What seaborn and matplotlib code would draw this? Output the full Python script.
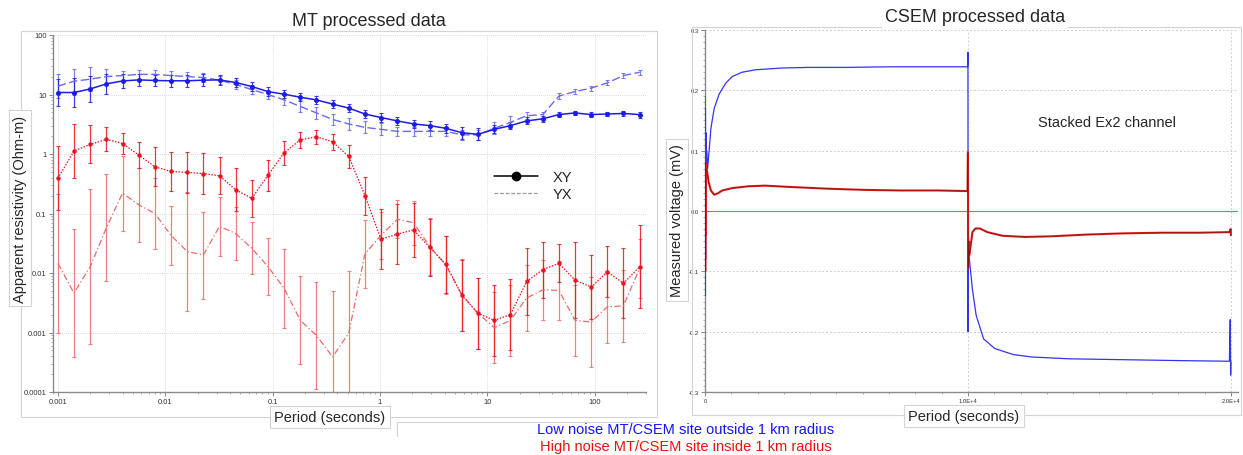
import matplotlib
matplotlib.use("Agg")
import matplotlib.pyplot as plt
from matplotlib.patches import Rectangle
from matplotlib.lines import Line2D
from matplotlib.ticker import LogLocator, MultipleLocator, NullFormatter
import numpy as np
import pandas as pd
import seaborn as sns

# ---------------- data: MT panel ----------------
periods = [0.001, 0.00141, 0.002, 0.00283, 0.004, 0.00566, 0.008, 0.0113, 0.016, 0.0226,
           0.032, 0.0453, 0.064, 0.0905, 0.128, 0.181, 0.256, 0.362, 0.512, 0.724,
           1.02, 1.45, 2.05, 2.9, 4.1, 5.79, 8.19, 11.6, 16.4, 23.2,
           32.8, 46.3, 65.5, 92.7, 131, 185, 262]

low_xy = [10.8, 10.8, 12.4, 15.1, 16.9, 17.6, 17.2, 17.0, 17.0, 17.4,
          17.6, 15.9, 13.6, 11.2, 10.1, 9.0, 8.1, 6.9, 5.9, 4.7,
          4.1, 3.6, 3.2, 3.0, 2.7, 2.28, 2.14, 2.6, 3.0, 3.6,
          3.9, 4.6, 4.9, 4.6, 4.7, 4.8, 4.6]
low_xy_err = [0.23, 0.24, 0.22, 0.17, 0.12, 0.1, 0.1, 0.1, 0.1, 0.1,
              0.08, 0.08, 0.08, 0.08, 0.07, 0.07, 0.07, 0.07, 0.07, 0.07,
              0.07, 0.07, 0.07, 0.07, 0.08, 0.1, 0.1, 0.07, 0.06, 0.06,
              0.05, 0.04, 0.04, 0.04, 0.04, 0.04, 0.05]

low_yx = [13.8, 16.7, 18.1, 20.0, 20.8, 21.8, 21.8, 20.8, 20.0, 19.3,
          17.4, 14.7, 12.1, 10.0, 8.1, 6.3, 4.9, 3.8, 3.2, 2.8,
          2.6, 2.4, 2.4, 2.4, 2.4, 2.1, 2.1, 2.7, 3.4, 4.4,
          4.6, 9.4, 11.2, 12.8, 15.7, 20.8, 23.7]
low_yx_err = [0.2, 0.2, 0.2, 0.12, 0.08, 0.08, 0.08, 0.08, 0.08, 0.07,
              0.07, 0.07, 0.07, 0.07, 0.08, 0.1, 0.1, 0.1, 0.1, 0.1,
              0.1, 0.08, 0.08, 0.08, 0.08, 0.08, 0.08, 0.1, 0.1, 0.06,
              0.05, 0.05, 0.04, 0.04, 0.04, 0.04, 0.04]

high_xy = [0.39, 1.12, 1.45, 1.76, 1.5, 0.96, 0.61, 0.51, 0.49, 0.47,
           0.43, 0.25, 0.18, 0.44, 1.05, 1.73, 1.95, 1.6, 0.91, 0.2,
           0.037, 0.045, 0.053, 0.027, 0.014, 0.0042, 0.0021, 0.0016, 0.002, 0.0072,
           0.0114, 0.0145, 0.0076, 0.0058, 0.0105, 0.0067, 0.0128]
high_xy_err = [0.54, 0.45, 0.32, 0.2, 0.17, 0.22, 0.33, 0.33, 0.35, 0.35,
               0.31, 0.36, 0.31, 0.26, 0.2, 0.14, 0.12, 0.14, 0.2, 0.32,
               0.5, 0.5, 0.45, 0.48, 0.48, 0.6, 0.6, 0.6, 0.6, 0.56,
               0.47, 0.32, 0.64, 0.54, 0.43, 0.59, 0.7]

high_yx = [0.0145, 0.0046, 0.0128, 0.058, 0.22, 0.14, 0.1, 0.043, 0.023, 0.02,
           0.061, 0.046, 0.026, 0.0128, 0.0055, 0.0016, 0.00089, 0.00039, 0.00098, 0.021,
           0.043, 0.08, 0.07, 0.028, 0.0136, 0.0043, 0.0021, 0.0012, 0.0016, 0.0038,
           0.0052, 0.0051, 0.0016, 0.0015, 0.0027, 0.0028, 0.012]
high_yx_err = [1.17, 1.08, 1.3, 0.9, 0.63, 0.62, 0.6, 0.5, 1.0, 0.73,
               0.5, 0.45, 0.44, 0.48, 0.66, 0.74, 0.9, 1.1, 1.05, 0.57,
               0.4, 0.32, 0.37, 0.48, 0.48, 0.6, 0.6, 0.6, 0.6, 0.55,
               0.5, 0.5, 0.6, 0.75, 0.6, 0.6, 0.5]

mt_xticks = [0.001, 0.01, 0.1, 1, 10, 100]
mt_xticklabels = ["0.001", "0.01", "0.1", "1", "10", "100"]
mt_yticks = [0.0001, 0.001, 0.01, 0.1, 1, 10, 100]
mt_yticklabels = ["0.0001", "0.001", "0.01", "0.1", "1", "10", "100"]

# ---------------- data: CSEM panel ----------------
blue_t_on = [0, 8, 16, 24, 32, 40, 60, 100, 225, 350, 540, 790, 1040, 1410, 1910,
             2910, 3910, 5350, 7000, 8500, 9980]
blue_v_on = [0.19, -0.14, 0.17, -0.08, 0.13, -0.03, 0.10, 0.07, 0.137, 0.17, 0.194, 0.212,
             0.223, 0.23, 0.234, 0.237, 0.238, 0.238, 0.239, 0.239, 0.239]
blue_t_off = [9990, 10000, 10006, 10012, 10028, 10170, 10312, 10595, 11020, 11728, 12436,
              13853, 15269, 16686, 18102, 19943, 19975, 19990, 20000]
blue_v_off = [0.239, 0.263, -0.20, -0.03, -0.068, -0.13, -0.173, -0.212, -0.228, -0.238,
              -0.242, -0.245, -0.246, -0.247, -0.248, -0.249, -0.18, -0.272, -0.25]

red_t_on = [0, 8, 16, 24, 32, 45, 70, 100, 137, 225, 350, 475, 660, 1040, 1660, 2290,
            3160, 4646, 6062, 7479, 8895, 9972]
red_v_on = [0.10, -0.10, 0.08, -0.04, 0.07, 0.069, 0.068, 0.06, 0.048, 0.034, 0.027, 0.029,
            0.034, 0.038, 0.041, 0.042, 0.040, 0.037, 0.035, 0.034, 0.034, 0.033]
red_t_off = [9985, 10000, 10008, 10020, 10057, 10170, 10283, 10453, 10737, 11303, 12153,
             13144, 14561, 15977, 17394, 18810, 19943, 19990, 20000]
red_v_off = [0.033, 0.097, -0.095, -0.05, -0.073, -0.035, -0.029, -0.029, -0.035, -0.041,
             -0.043, -0.042, -0.039, -0.037, -0.036, -0.036, -0.035, -0.03, -0.04]

csem_yticks = [-0.3, -0.2, -0.1, 0.0, 0.1, 0.2, 0.3]
csem_yticklabels = ["-0.3", "-0.2", "-0.1", "0.0", "0.1", "0.2", "0.3"]
csem_xticks = [0, 10000, 20000]
csem_xticklabels = ["0", "1.0E+4", "2.0E+4"]

# ---------------- style ----------------
sns.set_style("white")
plt.rcParams["font.family"] = ["Liberation Sans", "DejaVu Sans"]

W, H = 1243, 456
fig = plt.figure(figsize=(W / 100, H / 100), dpi=100)


def rect(x0, y0, x1, y1):
    return [x0 / W, 1 - y1 / H, (x1 - x0) / W, (y1 - y0) / H]


FRAME = "#d4d4d4"
# panel borders (light grey frames of the composite)
for (x0, y0, x1, y1) in [(21, 32, 657, 418), (692, 28, 1241, 416)]:
    fig.patches.append(Rectangle((x0 / W, 1 - y1 / H), (x1 - x0) / W, (y1 - y0) / H,
                                 transform=fig.transFigure, fill=False,
                                 ec=FRAME, lw=0.8, zorder=0))
# partial frame of the caption box
fig.add_artist(Line2D([397 / W, 655 / W], [1 - 423 / H, 1 - 423 / H],
                      transform=fig.transFigure, color=FRAME, lw=0.8))
fig.add_artist(Line2D([397 / W, 397 / W], [1 - 423 / H, 1 - 437 / H],
                      transform=fig.transFigure, color=FRAME, lw=0.8))

axL = fig.add_axes(rect(53, 36, 646, 393))
axR = fig.add_axes(rect(705, 31, 1238, 393))

# ---------------- MT panel ----------------
BLUE = "#1c1ce6"
BLUE_L = "#6a6aee"
RED = "#e8141e"
RED_L = "#ec6a6a"

mt = pd.DataFrame({"period": periods, "low_xy": low_xy, "low_yx": low_yx,
                   "high_xy": high_xy, "high_yx": high_yx})


def log_err(vals, errs):
    v = np.asarray(vals, float)
    e = np.asarray(errs, float)
    return np.vstack([v - v / 10 ** e, v * 10 ** e - v])


for col, errs, c in [("high_yx", high_yx_err, RED_L), ("high_xy", high_xy_err, RED),
                     ("low_yx", low_yx_err, BLUE_L), ("low_xy", low_xy_err, BLUE)]:
    axL.errorbar(mt["period"], mt[col], yerr=log_err(mt[col], errs), fmt="none",
                 ecolor=c, elinewidth=0.9, capsize=1.6, capthick=0.8, alpha=0.85, zorder=2)

sns.lineplot(data=mt, x="period", y="high_yx", ax=axL, color=RED_L, lw=0.9,
             linestyle=(0, (5, 2, 1, 2)), estimator=None, sort=False, zorder=3)
sns.lineplot(data=mt, x="period", y="high_xy", ax=axL, color=RED, lw=0.9,
             linestyle=(0, (1.2, 1.2)), marker="o", markersize=3.2, markeredgewidth=0,
             estimator=None, sort=False, zorder=3)
sns.lineplot(data=mt, x="period", y="low_yx", ax=axL, color=BLUE_L, lw=1.0,
             linestyle=(0, (6, 2.5)), estimator=None, sort=False, zorder=3)
sns.lineplot(data=mt, x="period", y="low_xy", ax=axL, color=BLUE, lw=1.1,
             marker="o", markersize=3.6, markeredgewidth=0,
             estimator=None, sort=False, zorder=4)

axL.set_xscale("log")
axL.set_yscale("log")
axL.set_xlim(0.0009, 300)
axL.set_ylim(0.0001, 100)
axL.set_xticks(mt_xticks)
axL.set_xticklabels(mt_xticklabels)
axL.set_yticks(mt_yticks)
axL.set_yticklabels(mt_yticklabels)
axL.xaxis.set_minor_locator(LogLocator(base=10, subs=np.arange(2, 10)))
axL.xaxis.set_minor_formatter(NullFormatter())
axL.yaxis.set_minor_locator(LogLocator(base=10, subs=np.arange(2, 10)))
axL.yaxis.set_minor_formatter(NullFormatter())
axL.grid(True, which="major", color="#cfcfcf", lw=0.6, linestyle=(0, (1, 1.5)))
axL.set_xlabel("")
axL.set_ylabel("")

handles = [Line2D([], [], color="black", lw=1.1, marker="o", markersize=6),
           Line2D([], [], color="#9a9a9a", lw=0.9, linestyle=(0, (3, 1.5)))]
axL.legend(handles, ["XY", "YX"], loc="center", bbox_to_anchor=(0.81, 0.578),
           frameon=False, fontsize=10.5, handlelength=3.0, handletextpad=1.0,
           labelspacing=0.25)

# ---------------- CSEM panel ----------------
CBLUE = "#3434ee"
CRED = "#e41c1c"
CDARK = "#8a1010"

csem_on_b = pd.DataFrame({"t": blue_t_on, "v": blue_v_on})
csem_off_b = pd.DataFrame({"t": blue_t_off, "v": blue_v_off})
csem_on_r = pd.DataFrame({"t": red_t_on, "v": red_v_on})
csem_off_r = pd.DataFrame({"t": red_t_off, "v": red_v_off})

axR.axhline(0.0, color="#e06060", lw=0.8, zorder=1)
for d in (csem_on_b, csem_off_b):
    sns.lineplot(data=d, x="t", y="v", ax=axR, color=CBLUE, lw=0.9,
                 estimator=None, sort=False, zorder=3)
for d in (csem_on_r, csem_off_r):
    sns.lineplot(data=d, x="t", y="v", ax=axR, color=CRED, lw=1.5,
                 estimator=None, sort=False, zorder=4)
    sns.lineplot(data=d, x="t", y="v", ax=axR, color=CDARK, lw=0.45,
                 estimator=None, sort=False, zorder=5)

axR.set_xlim(0, 20270)
axR.set_ylim(-0.3, 0.3)
axR.set_yticks(csem_yticks)
axR.set_yticklabels(csem_yticklabels)
axR.set_xticks(csem_xticks)
axR.set_xticklabels(csem_xticklabels)
axR.yaxis.set_minor_locator(MultipleLocator(0.01))
axR.xaxis.set_minor_locator(MultipleLocator(1000))
axR.grid(True, which="major", color="#cfcfcf", lw=0.7, linestyle=(0, (2, 2)))
axR.set_xlabel("")
axR.set_ylabel("")
axR.text(0.625, 0.745, "Stacked Ex2 channel", transform=axR.transAxes,
         fontsize=10.5, ha="left", va="center")

# spines / ticks
for ax, fs in ((axL, 5.5), (axR, 4.2)):
    for s in ("top", "right"):
        ax.spines[s].set_visible(False)
    for s in ("left", "bottom"):
        ax.spines[s].set_color("#8a8a8a")
        ax.spines[s].set_linewidth(1.0)
    ax.tick_params(which="major", length=3, width=0.7, color="#8a8a8a",
                   labelsize=fs, labelcolor="#333333", pad=1.5, left=True, bottom=True)
    ax.tick_params(which="minor", length=1.6, width=0.5, color="#8a8a8a",
                   left=True, bottom=True)

# ---------------- labels, titles, caption ----------------
box = dict(boxstyle="square,pad=0.3", fc="white", ec=FRAME, lw=0.8)
nobox = dict(boxstyle="square,pad=0.15", fc="white", ec="none")

fig.text(369 / W, 1 - 21 / H, "MT processed data", ha="center", va="center",
         fontsize=13, bbox=nobox)
fig.text(975 / W, 1 - 18 / H, "CSEM processed data", ha="center", va="center",
         fontsize=13, bbox=nobox)
fig.text(330 / W, 1 - 418 / H, "Period (seconds)", ha="center", va="center",
         fontsize=10.5, bbox=box)
fig.text(964 / W, 1 - 417 / H, "Period (seconds)", ha="center", va="center",
         fontsize=10.5, bbox=box)
fig.text(20 / W, 1 - 209 / H, "Apparent resistivity (Ohm-m)", ha="center", va="center",
         rotation=90, fontsize=10.5, bbox=box)
fig.text(677 / W, 1 - 221 / H, "Measured voltage (mV)", ha="center", va="center",
         rotation=90, fontsize=10.5, bbox=box)

fig.text(686 / W, 1 - 430 / H, "Low noise MT/CSEM site outside 1 km radius",
         ha="center", va="center", fontsize=10.5, color="#1414ff")
fig.text(686 / W, 1 - 447 / H, "High noise MT/CSEM site inside 1 km radius",
         ha="center", va="center", fontsize=10.5, color="#ee1111")

fig.savefig("out.png", dpi=100, facecolor="white")
